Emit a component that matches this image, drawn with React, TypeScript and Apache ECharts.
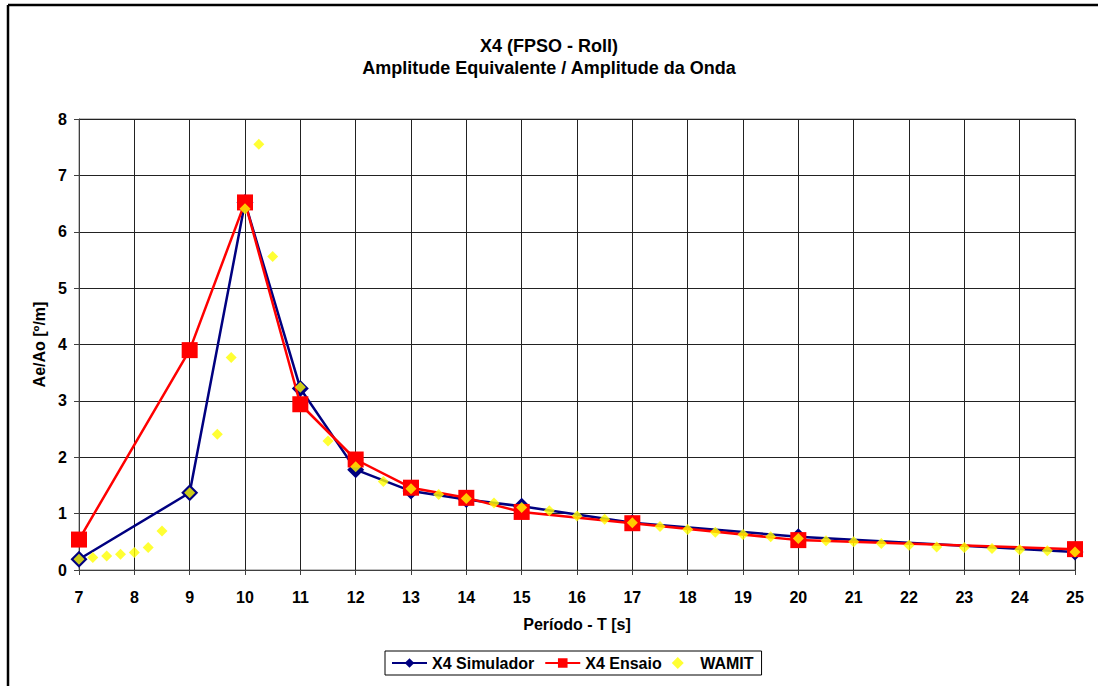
import React, { useEffect, useRef } from "react";
import * as echarts from "echarts";

const simX = [7, 9, 10, 11, 12, 13, 14, 15, 17, 20, 25];
const simY = [0.19, 1.37, 6.52, 3.22, 1.78, 1.4, 1.25, 1.13, 0.84, 0.59, 0.32];

const ensX = [7, 9, 10, 11, 12, 13, 14, 15, 17, 20, 25];
const ensY = [0.54, 3.9, 6.52, 2.94, 1.96, 1.46, 1.28, 1.03, 0.83, 0.53, 0.37];

const wamitX = [7, 7.25, 7.5, 7.75, 8, 8.25, 8.5, 9, 9.5, 9.75, 10, 10.25, 10.5, 11, 11.5, 12, 12.5, 13, 13.5, 14, 14.5, 15, 15.5, 16, 16.5, 17, 17.5, 18, 18.5, 19, 19.5, 20, 20.5, 21, 21.5, 22, 22.5, 23, 23.5, 24, 24.5, 25];
const wamitY = [0.19, 0.22, 0.25, 0.28, 0.31, 0.4, 0.69, 1.37, 2.41, 3.77, 6.41, 7.55, 5.56, 3.24, 2.29, 1.83, 1.57, 1.44, 1.34, 1.27, 1.19, 1.11, 1.05, 0.96, 0.9, 0.84, 0.77, 0.72, 0.67, 0.63, 0.59, 0.56, 0.52, 0.5, 0.47, 0.44, 0.41, 0.4, 0.38, 0.36, 0.34, 0.32];

const FONT = "Liberation Sans, Arial, sans-serif";

export default function App() {
  const ref = useRef<HTMLDivElement>(null);
  useEffect(() => {
    document.body.style.margin = "0";
    const chart = echarts.init(ref.current!, null, { renderer: "svg" });
    const pair = (xs: number[], ys: number[]) => xs.map((x, i) => [x, ys[i]]);
    const txt = { fontFamily: FONT, fontSize: 16, fontWeight: "bold", color: "#000" };
    chart.setOption({
      animation: false,
      backgroundColor: "#fff",
      textStyle: { fontFamily: FONT },
      title: {
        text: "X4 (FPSO - Roll)\nAmplitude Equivalente / Amplitude da Onda",
        left: "center",
        top: 30,
        textStyle: { fontFamily: FONT, fontSize: 18, fontWeight: "bold", color: "#000", lineHeight: 22 },
      },
      graphic: [
        { type: "line", shape: { x1: 8, y1: 5, x2: 1098, y2: 5 }, style: { stroke: "#000", lineWidth: 2.5 } },
        { type: "line", shape: { x1: 8, y1: 5, x2: 8, y2: 686 }, style: { stroke: "#000", lineWidth: 2.5 } },
      ],
      legend: {
        left: 385,
        top: 651,
        orient: "horizontal",
        borderColor: "#000",
        borderWidth: 1,
        padding: [4, 8, 4, 6],
        itemGap: 10,
        itemWidth: 35,
        itemHeight: 12,
        symbolKeepAspect: true,
        textStyle: txt,
        data: [
          { name: "X4 Simulador" },
          { name: "X4 Ensaio" },
          { name: "WAMIT", icon: "path://M5,0L10,5L5,10L0,5Z" },
        ],
      },
      grid: {
        left: 79,
        right: 23,
        top: 119,
        bottom: 116,
        show: true,
        borderColor: "#808080",
        borderWidth: 1,
      },
      xAxis: {
        type: "value",
        min: 7,
        max: 25,
        interval: 1,
        name: "Período - T [s]",
        nameLocation: "middle",
        nameGap: 46,
        nameTextStyle: txt,
        axisLine: { show: true, lineStyle: { color: "#404040", width: 1 } },
        axisTick: { show: true, length: 5, lineStyle: { color: "#404040" } },
        axisLabel: { margin: 19, ...txt },
        splitLine: { show: true, lineStyle: { color: "#222", width: 1 } },
      },
      yAxis: {
        type: "value",
        min: 0,
        max: 8,
        interval: 1,
        name: "Ae/Ao [º/m]",
        nameLocation: "middle",
        nameGap: 31,
        nameTextStyle: txt,
        axisLine: { show: true, lineStyle: { color: "#404040", width: 1 } },
        axisTick: { show: true, length: 5, lineStyle: { color: "#404040" } },
        axisLabel: { margin: 12, ...txt },
        splitLine: { show: true, lineStyle: { color: "#222", width: 1 } },
      },
      series: [
        {
          name: "X4 Simulador",
          type: "line",
          data: pair(simX, simY),
          symbol: "diamond",
          symbolSize: 17,
          itemStyle: { color: "#000080" },
          lineStyle: { color: "#000080", width: 2.5 },
          z: 2,
        },
        {
          name: "X4 Ensaio",
          type: "line",
          data: pair(ensX, ensY),
          symbol: "rect",
          symbolSize: 16,
          itemStyle: { color: "#ff0000" },
          lineStyle: { color: "#ff0000", width: 2.5 },
          z: 3,
        },
        {
          name: "WAMIT",
          type: "scatter",
          data: pair(wamitX, wamitY),
          symbol: "diamond",
          symbolSize: 11,
          itemStyle: { color: "#ffff00" },
          z: 4,
        },
      ],
    });
    return () => chart.dispose();
  }, []);
  return <div ref={ref} style={{ width: 1098, height: 686, position: "absolute", left: 0, top: 0 }} />;
}
